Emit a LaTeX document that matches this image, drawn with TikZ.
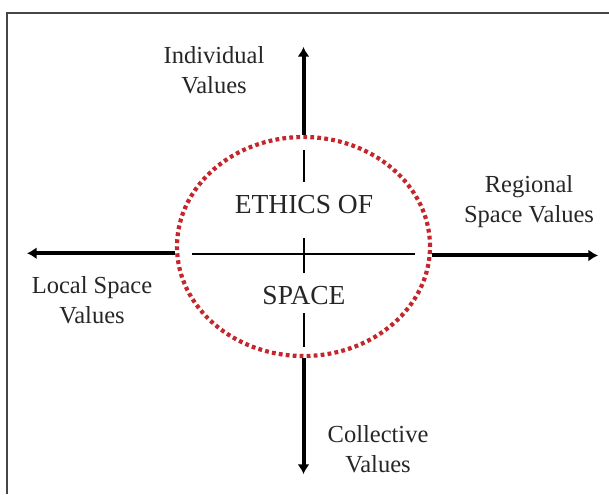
\documentclass[tikz,border=0pt]{standalone}
\usepackage{fontspec}
\setmainfont{Liberation Serif}
\usetikzlibrary{shapes.geometric,arrows.meta}
\definecolor{ringred}{RGB}{196,38,44}
\definecolor{framegray}{RGB}{70,70,70}

\begin{document}
\begin{tikzpicture}[
x=0.5pt, y=-0.5pt,
thick,
axis/.style = {line width=2pt, -{Latex[length=4.8pt,width=6pt]}},
cross/.style = {line width=1pt},
ring/.style = {draw=ringred, ellipse, line width=2.1pt, dash pattern=on 1.9pt off 1.6pt,
  minimum width=126.5pt, minimum height=109.5pt, inner sep=0pt},
valuelabel/.style = {align=center, text=black!85, font=\fontsize{12.25}{15}\selectfont},
title/.style = {text=black!85, font=\fontsize{13.75}{16}\selectfont} ]
\useasboundingbox (0,0) rectangle (609,494);
\draw[framegray, line width=1pt] (7,494) -- (7,13) -- (609,13);

\node[ring] (ring) at (303.5,246.5) {};
\node[title] (ethics) at (304,205) {ETHICS OF};
\node[title] (space) at (304,296) {SPACE};

\node[valuelabel] (indiv) at (214,70) {Individual\\Values};
\node[valuelabel] (regional) at (529,202) {Regional\\Space Values};
\node[valuelabel] (local) at (92,300) {Local Space\\Values};
\node[valuelabel] (collect) at (378,449) {Collective\\Values};

\coordinate (up) at (303.5,47);
\coordinate (down) at (303.5,474);
\coordinate (left) at (27,254);
\coordinate (right) at (598,254);

\draw[axis] (ring.north) -- (up);
\draw[axis] (ring.south) -- (down);
\draw[axis] (ring.183.4) -- (ring.183.4 -| left);
\draw[axis] (ring.356.6) -- (ring.356.6 -| right);

% broken cross inside the ring
\draw[cross] (192,254) -- (415,254);
\draw[cross] (304,150) -- (304,182);
\draw[cross] (304,238) -- (304,273);
\draw[cross] (304,313) -- (304,347);

\end{tikzpicture}
\end{document}
